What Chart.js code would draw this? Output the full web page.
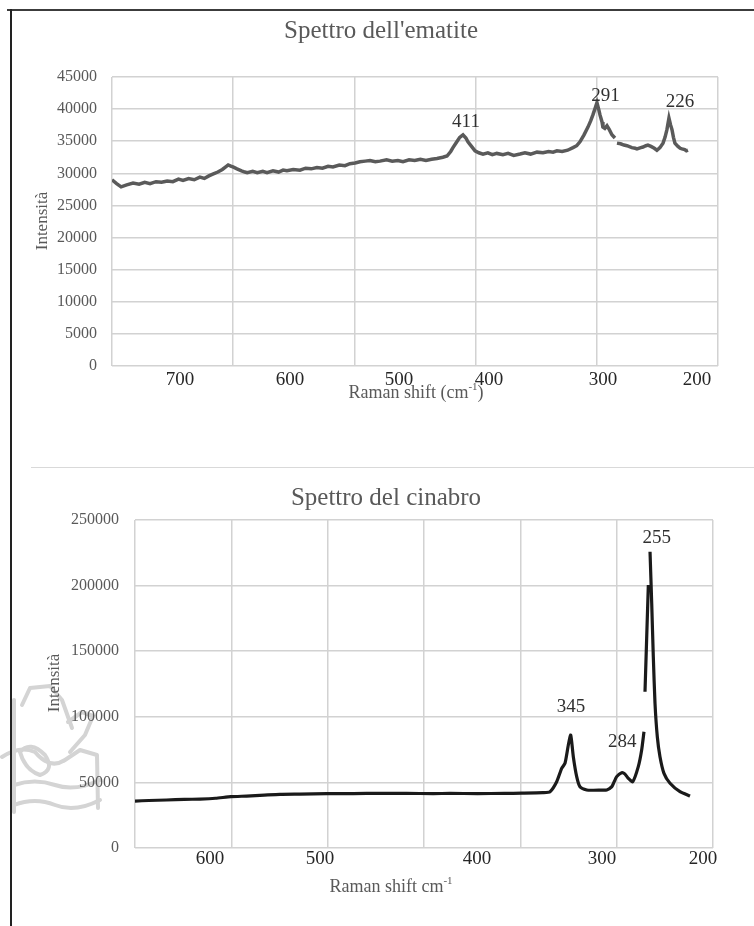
<!DOCTYPE html>
<html><head><meta charset="utf-8">
<script src="https://cdn.jsdelivr.net/npm/chart.js@4.4.1/dist/chart.umd.min.js"></script>
<style>
html,body{margin:0;padding:0;background:#fff;}
body{width:754px;height:926px;position:relative;overflow:hidden;}
#frameTop{position:absolute;left:7px;top:9px;width:747px;height:0;border-top:2px solid #3c3c3c;}
#frameLeft{position:absolute;left:10px;top:9px;width:0;height:917px;border-left:2px solid #222;}
#sep{position:absolute;left:31px;top:467px;width:723px;height:0;border-top:1px solid #d9d9d9;}
canvas{position:absolute;left:0;}
#c1{top:0;}
#c2{top:440px;}
#wm{position:absolute;left:0;top:0;}
</style></head><body>
<svg id="wm" width="120" height="926" viewBox="0 0 120 926">
 <g fill="none" stroke="#d4d4d4" stroke-width="4" stroke-linecap="round" stroke-linejoin="round">
  <path d="M22 705 L30 688 L50 686 L62 700 L72 728"/>
  <path d="M14 700 L14 812"/>
  <path d="M2 757 Q20 745 35 752 Q50 770 65 760 L80 750 L97 755 L98 808"/>
  <path d="M20 752 Q30 740 45 755 Q55 770 40 775 Q25 770 20 752"/>
  <path d="M68 722 L82 712 L93 716 L85 735 L70 752"/>
  <path d="M14 785 Q35 778 55 785 T100 780"/>
  <path d="M14 805 Q35 797 55 805 T100 800"/>
 </g>
</svg>
<canvas id="c1" width="754" height="440"></canvas>
<canvas id="c2" width="754" height="486"></canvas>
<div id="frameTop"></div>
<div id="frameLeft"></div>
<div id="sep"></div>
<script>
const FONT = "'Liberation Serif', 'Times New Roman', serif";

// ---------- Spettro dell'ematite ----------
const hemShift = [722.1, 718, 714, 709, 703.4, 698, 693, 688.3, 683, 678,
  673, 668, 663, 659, 654, 649, 644, 640, 636, 632,
  628, 624, 621, 618.8, 616, 614.6, 611, 607, 604, 601.9,
  597, 593, 588, 584.3, 579, 574, 570, 566.6, 561, 555,
  550, 545, 539.9, 535, 530, 525.7, 520, 515, 510.6, 506,
  501.7, 497, 492.8, 488, 483.9, 478, 473, 468, 463.4, 458,
  453, 448, 443, 438, 433.2, 428, 424.3, 421, 419, 416,
  413, 410.1, 407.5, 405.7, 402.5, 399.4, 396, 392.3, 388, 384,
  380, 374.6, 370, 365, 359.4, 355, 350, 344.3, 339, 334,
  330, 326.6, 322, 317, 312.3, 309, 306.1, 302.5, 299, 296.5,
  294.6, 292.5, 291, 289.5, 288.3, 286.5, 285.7, 284, 282.1, 280,
  277.7, 275, 274, 273.2, 270, 267, 264.3, 260, 257, 255.4,
  252, 250.1, 247.5, 245.7, 243, 240, 237.7, 235, 232.3, 230.5,
  228.8, 227, 225.5, 224.3, 223, 221.7, 219, 217, 215.4, 213,
  211.5, 210.1];
const hemIntensity = [29000, 28400, 27900, 28200, 28500, 28300, 28600, 28400, 28700, 28600,
  28800, 28700, 29100, 28900, 29200, 29000, 29400, 29200, 29600, 29900,
  30200, 30600, 31000, 31300, 31100, 31000, 30700, 30400, 30200, 30100,
  30300, 30100, 30300, 30100, 30400, 30200, 30500, 30400, 30600, 30500,
  30800, 30700, 30900, 30800, 31100, 31000, 31300, 31200, 31500, 31600,
  31800, 31900, 32000, 31800, 31900, 32100, 31900, 32000, 31800, 32100,
  32000, 32200, 32000, 32200, 32300, 32500, 32700, 33400, 34000, 34800,
  35600, 36000, 35500, 34900, 34200, 33500, 33200, 33000, 33200, 32900,
  33100, 32900, 33100, 32800, 33000, 33200, 33000, 33300, 33200, 33400,
  33300, 33500, 33400, 33600, 34000, 34300, 34900, 36000, 37200, 38200,
  39100, 40200, 41000, 40000, 39100, 38000, 37200, 37000, 37400, 36800,
  36000, 35500, null, 34700, 34600, 34400, 34300, 34000, 33900, 33800,
  34000, 34100, 34300, 34400, 34200, 33900, 33600, 34000, 34700, 35600,
  36800, 38600, 37500, 36800, 35600, 34700, 34200, 33900, 33800, 33700,
  33500, 33600];
const hemRange = [183.4, 722.1];
const hemTickLabels = ['700', '600', '500', '400', '300', '200'];
const hemTickAt = [661.7, 563.9, 467.0, 387.0, 285.7, 202.1];
const hemPeakLabels = ['411', '291', '226'];
const hemPeakAt = [407.4, 283.5, 217.2];
const hemPeakLabelY = [38040, 42000, 41100];

// ---------- Spettro del cinabro ----------
const cinShift = [835.5, 820, 800, 780, 762.4, 745, 727.5, 710, 690, 672.4,
  650, 619.5, 590, 559.9, 530, 500, 481.1, 450, 420, 400,
  376.5, 368.6, 361.1, 355.5, 351.75, 348, 345.3, 342.4, 338.6, 334.9,
  327.3, 320, 312, 304.8, 299.2, 297.4, 293.6, 288, 284.5, 280.5,
  275.6, 269.3, 265.5, 262.9, 262.3, 261.75, 258, 257, 256.1, 254.2,
  252.4, 250.5, 247.9, 244.9, 240.4, 233.6, 222.4, 211.1];
const cinIntensity = [35800, 36200, 36600, 37000, 37300, 37900, 39100, 39600, 40300, 40900,
  41100, 41400, 41500, 41700, 41600, 41500, 41600, 41500, 41600, 41800,
  42200, 42900, 50500, 60700, 64600, 78500, 86100, 69600, 54400, 46700,
  44200, 44000, 44100, 44200, 46700, 49000, 54400, 57400, 56500, 53100,
  50500, 62000, 74700, 88600, null, 119100, 200500, null, 225800, 186500,
  145800, 110300, 84800, 69600, 56900, 49300, 42900, 39600];
const cinRange = [185.25, 835.5];
const cinTickLabels = ['600', '500', '400', '300', '200'];
const cinTickAt = [751.1, 627.4, 450.75, 310.1, 196.5];
const cinPeakLabels = ['345', '284', '255'];
const cinPeakAt = [345, 287.3, 248.6];
const cinPeakLabelY = [107200, 81000, 236300];

function xAxis(range, nGrid, tickAt, tickLabels, pad, height) {
  return {
    type: 'linear', reverse: true, min: range[0], max: range[1],
    afterBuildTicks: s => {
      const t = [];
      for (let k = 0; k <= nGrid; k++) {
        const v = k === 0 ? range[0] : (k === nGrid ? range[1] : range[0] + k * (range[1] - range[0]) / nGrid);
        t.push({ value: v, isGrid: true });
      }
      tickAt.forEach((v, i) => t.push({ value: v, txt: tickLabels[i] }));
      t.sort((a, b) => a.value - b.value);
      s.ticks = t;
    },
    afterFit: s => { s.height = height; },
    grid: { color: c => (c.tick && c.tick.isGrid) ? '#d2d2d2' : 'rgba(0,0,0,0)', drawTicks: false, lineWidth: 1.5 },
    border: { display: false },
    ticks: { autoSkip: false, maxRotation: 0, minRotation: 0, padding: pad, color: '#262626',
      font: { family: FONT, size: 19, lineHeight: 1 },
      callback: (v, i, ticks) => ticks[i].txt || '' }
  };
}
function yAxis(max, step, width, pad) {
  return {
    type: 'linear', min: 0, max: max,
    afterFit: s => { s.width = width; },
    grid: { color: '#d2d2d2', drawTicks: false, lineWidth: 1.5 },
    border: { display: false },
    ticks: { stepSize: step, padding: pad, color: '#595959', font: { family: FONT, size: 16 },
      callback: v => String(v) }
  };
}

const overlay = {
  id: 'overlay',
  afterDraw(chart, args, o) {
    const ctx = chart.ctx;
    ctx.save();
    ctx.textAlign = 'center'; ctx.textBaseline = 'middle';
    ctx.fillStyle = '#595959';
    ctx.font = '25px ' + FONT;
    ctx.fillText(o.title, o.titleX, o.titleY);
    ctx.save();
    ctx.translate(o.yTitleX, o.yTitleY); ctx.rotate(-Math.PI / 2);
    ctx.font = '17px ' + FONT;
    ctx.fillText('Intensità', 0, 0);
    ctx.restore();
    ctx.font = '18px ' + FONT;
    const wBase = ctx.measureText(o.xBase).width;
    const wTail = ctx.measureText(o.xTail).width;
    ctx.font = '11px ' + FONT;
    const wSup = ctx.measureText('-1').width;
    let x = o.xTitleX - (wBase + wSup + wTail) / 2;
    ctx.textAlign = 'left';
    ctx.font = '18px ' + FONT;
    ctx.fillText(o.xBase, x, o.xTitleY); x += wBase;
    ctx.font = '11px ' + FONT;
    ctx.fillText('-1', x, o.xTitleY - 6); x += wSup;
    ctx.font = '18px ' + FONT;
    if (o.xTail) ctx.fillText(o.xTail, x, o.xTitleY);
    ctx.textAlign = 'center';
    ctx.fillStyle = '#303030';
    ctx.font = '19px ' + FONT;
    const xs = chart.scales.x, ys = chart.scales.y;
    o.peakLabels.forEach((t, i) => ctx.fillText(t, xs.getPixelForValue(o.peakAt[i]), ys.getPixelForValue(o.peakY[i])));
    ctx.restore();
  }
};

function pts(xs, ys) { return xs.map((v, i) => ({ x: v, y: ys[i] })); }

new Chart(document.getElementById('c1'), {
  type: 'line',
  data: { datasets: [{ data: pts(hemShift, hemIntensity), borderColor: '#5a5a5a', borderWidth: 3.5,
    pointRadius: 0, tension: 0, spanGaps: false }] },
  options: {
    responsive: false, animation: false, devicePixelRatio: 1,
    layout: { padding: { left: 0, top: 77, right: 36, bottom: 44 } },
    scales: { x: xAxis(hemRange, 5, hemTickAt, hemTickLabels, 5, 30), y: yAxis(45000, 5000, 112, 15) },
    plugins: { legend: { display: false }, tooltip: { enabled: false },
      overlay: { title: "Spettro dell'ematite", titleX: 381, titleY: 31, yTitleX: 43, yTitleY: 221,
        xBase: 'Raman shift (cm', xTail: ')', xTitleX: 416, xTitleY: 393,
        peakLabels: hemPeakLabels, peakAt: hemPeakAt, peakY: hemPeakLabelY } }
  },
  plugins: [overlay]
});

new Chart(document.getElementById('c2'), {
  type: 'line',
  data: { datasets: [{ data: pts(cinShift, cinIntensity), borderColor: '#1a1a1a', borderWidth: 3.2,
    pointRadius: 0, tension: 0.2, spanGaps: false }] },
  options: {
    responsive: false, animation: false, devicePixelRatio: 1,
    layout: { padding: { left: 0, top: 80, right: 41, bottom: 48 } },
    scales: { x: xAxis(cinRange, 6, cinTickAt, cinTickLabels, 1.5, 30), y: yAxis(250000, 50000, 135, 16) },
    plugins: { legend: { display: false }, tooltip: { enabled: false },
      overlay: { title: 'Spettro del cinabro', titleX: 386, titleY: 58, yTitleX: 55, yTitleY: 243,
        xBase: 'Raman shift cm', xTail: '', xTitleX: 391, xTitleY: 447,
        peakLabels: cinPeakLabels, peakAt: cinPeakAt, peakY: cinPeakLabelY } }
  },
  plugins: [overlay]
});
</script>
</body></html>
